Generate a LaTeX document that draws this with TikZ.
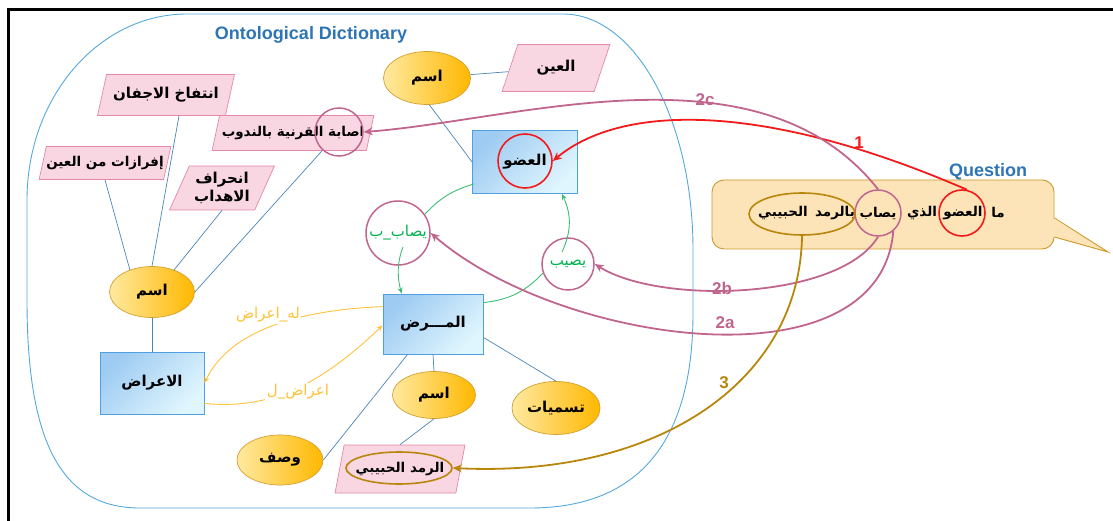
\documentclass[tikz,border=0pt]{standalone}
\usepackage{fontspec}
\setmainfont{Liberation Sans}
\newfontfamily\arabicfont[Script=Arabic]{DejaVu Sans}
\TeXXeTstate=1
\usetikzlibrary{shapes.geometric,arrows.meta,calc}
\newcommand{\rtltxt}[1]{\beginR #1\endR}

\definecolor{framebl}{HTML}{55A8DE}
\definecolor{titlebl}{HTML}{2E75B6}
\definecolor{linkbl}{HTML}{4A86B8}
\definecolor{pinkfill}{HTML}{F8D6E2}
\definecolor{pinkdraw}{HTML}{E589A6}
\definecolor{elllight}{HTML}{FFE9A0}
\definecolor{elldark}{HTML}{FFB800}
\definecolor{elldraw}{HTML}{D4A030}
\definecolor{boxlight}{HTML}{E0F6FE}
\definecolor{boxdark}{HTML}{9ECBF2}
\definecolor{boxdraw}{HTML}{4F9FE3}
\definecolor{mauve}{HTML}{C0668E}
\definecolor{qred}{HTML}{F21A1A}
\definecolor{gold}{HTML}{B8860B}
\definecolor{relgreen}{HTML}{00B050}
\definecolor{relline}{HTML}{3DBE74}
\definecolor{relorange}{HTML}{FFC23A}
\definecolor{qfill}{HTML}{FCE4B8}
\definecolor{qdraw}{HTML}{CC9A2A}

\begin{document}
\begin{tikzpicture}[x=1pt,y=1pt,
  every node/.style={inner sep=0pt},
  arb/.style={font=\arabicfont\bfseries\fontsize{15}{18}\selectfont},
  arbsmall/.style={font=\arabicfont\bfseries\fontsize{13.5}{16}\selectfont},
  arr/.style={font=\arabicfont\fontsize{15}{18}\selectfont},
  namebox/.style={arb, ellipse, draw=elldraw, line width=0.7pt, left color=elllight, right color=elldark},
  termbox/.style={arb, trapezium, trapezium left angle=62, trapezium right angle=118,
    trapezium stretches=true, draw=pinkdraw, line width=0.7pt, fill=pinkfill, align=center},
  classbox/.style={arb, rectangle, draw=boxdraw, line width=0.8pt, top color=boxdark,
    bottom color=boxlight, shading angle=45},
  link/.style={draw=linkbl, line width=0.7pt},
  hilite/.style={circle, draw=mauve, line width=1.5pt},
  relg/.style={draw=relline, line width=0.9pt},
  relo/.style={draw=relorange, line width=0.9pt},
  smalltip/.style={-{Stealth[length=6pt,width=5pt]}},
  maparrow/.style={line width=1.8pt, -{Stealth[length=9pt,width=8pt]}},
  numlbl/.style={font=\bfseries\fontsize{17}{19}\selectfont},
  qword/.style={font=\arabicfont\bfseries\fontsize{13.5}{16}\selectfont}
]
\useasboundingbox (0,0) rectangle (1113,-521);

% outer frame
\draw[line width=3pt] (8,-521) -- (8,-10) -- (1113,-10);

% ontology boundary
\draw[framebl, line width=0.9pt]
  (187,-14) -- (563,-14)
  arc[start angle=90, end angle=0, x radius=130, y radius=236]
  -- (693,-313) .. controls (693,-440) and (640,-508) .. (530,-508)
  -- (140,-508) .. controls (60,-508) and (27,-440) .. (27,-300)
  -- (27,-200) arc[start angle=180, end angle=90, x radius=160, y radius=186] -- cycle;

\node[font=\bfseries\fontsize{18}{20}\selectfont, text=titlebl] (title) at (311,-35) {Ontological Dictionary};

% name ellipses
\node[namebox, minimum width=87pt, minimum height=53pt] (tn) at (427,-78) {\rtltxt{اسم}};
\node[namebox, minimum width=85pt, minimum height=51pt] (ln) at (152,-292) {\rtltxt{اسم}};
\node[namebox, minimum width=83pt, minimum height=47pt] (bn) at (434,-395) {\rtltxt{اسم}};
\node[namebox, minimum width=88pt, minimum height=53pt] (tsm) at (556,-408) {\rtltxt{تسميات}};
\node[namebox, minimum width=86pt, minimum height=50pt] (wsf) at (280,-460) {\rtltxt{وصف}};

% term parallelograms
\node[termbox, minimum width=108pt, minimum height=47pt] (ain) at (556,-68) {\rtltxt{العين}};
\node[termbox, arbsmall, minimum width=162pt, minimum height=35pt] (isb) at (293,-133) {\rtltxt{اصابة القرنية بالندوب}};
\node[termbox, minimum width=137pt, minimum height=41pt] (ntf) at (166,-95) {\rtltxt{انتفاخ الاجفان}};
\node[termbox, arbsmall, minimum width=124pt, minimum height=33pt] (frz) at (105,-163) {\rtltxt{إفرازات من العين}};
\node[termbox, minimum width=105pt, minimum height=44pt] (nhr) at (222,-188) {\rtltxt{انحراف}\\[0pt]\rtltxt{الاهداب}};
\node[termbox, arbsmall, minimum width=130pt, minimum height=48pt] (rmd) at (400,-469) {\rtltxt{الرمد\ الحبيبي}};

% class boxes
\node[classbox, minimum width=105pt, minimum height=63pt] (odw) at (525,-162) {\rtltxt{العضو}};
\node[classbox, minimum width=104pt, minimum height=62pt] (axd) at (152,-383) {\rtltxt{الاعراض}};
\node[classbox, minimum width=100pt, minimum height=60pt] (mrd) at (433,-324) {\rtltxt{المـــرض}};

% highlighted matches inside the dictionary
\node[hilite, minimum size=48pt] (isbc) at (339,-132) {};
\node[circle, draw=qred, line width=1.6pt, minimum size=54pt] (odwc) at (525,-161) {};
\node[ellipse, draw=gold, line width=1.6pt, minimum width=106pt, minimum height=32pt] (rmdc) at (399,-468) {};
\node[hilite, arr, text=relgreen, minimum size=64pt] (ysb) at (398,-233) {\rtltxt{يصاب\_ب}};
\node[hilite, arr, text=relgreen, minimum size=52pt] (ysib) at (568,-264) {\rtltxt{يصيب}};

% plain links
\draw[link] (tn) -- (ain);
\draw[link] (tn.-85) -- (odw.west);
\draw[link] (frz.south) -- (ln.135);
\draw[link] ($(ntf.south)+(13,0)$) -- (ln.north);
\draw[link] (nhr.south) -- (ln.45);
\draw[link] ($(isb.south)+(29,0)$) -- (ln.east);
\draw[link] (ln.south) -- (axd.north);
\draw[link] (mrd.south) -- (bn.north);
\draw[link] ($(mrd.south east)+(0,17)$) -- (tsm.north);
\draw[link] (wsf.east) -- ($(mrd.south west)+(25,0)$);
\draw[link] (bn.south) -- (rmd.north);

% green relations
\draw[relg] ($(odw.south west)+(2,10)$) to[bend right=15] (ysb.35);
\draw[relg, smalltip] ($(ysb.center)+(5,-14)$) .. controls (396,-265) and (398,-280) .. ($(mrd.north west)+(19,0)$);
\draw[relg] ($(mrd.north east)+(0,-9)$) to[bend right=20] (ysib.200);
\draw[relg, smalltip] ($(ysib.center)+(-6,12)$) to[bend right=25] ($(odw.south east)+(-16,0)$);

% orange relations
\draw[relo, smalltip] ($(mrd.north west)+(0,-13)$) .. controls (300,-310) and (230,-330) .. (axd.east);
\draw[relo, smalltip] ($(axd.south east)+(0,11)$) .. controls (270,-410) and (320,-385) .. ($(mrd.south west)+(0,29)$);
\node[arr, text=relorange, fill=white, inner sep=1.5pt] (lhx) at (268,-315) {\rtltxt{له\_اعراض}};
\node[arr, text=relorange, fill=white, inner sep=1.5pt] (axl) at (298,-392) {\rtltxt{اعراض\_ل}};

% question bubble
\node[draw=qdraw, fill=qfill, rounded corners=12pt, line width=0.9pt,
      minimum width=342pt, minimum height=69pt] (qbox) at (883,-214.5) {};
\coordinate (qtip) at (1108,-252);
\fill[qfill] ($(qbox.east)+(-2,-3.5)$) -- (qtip) -- ($(qbox.east)+(-2,-22.5)$) -- cycle;
\draw[qdraw, line width=0.9pt] ($(qbox.east)+(0,-3.5)$) -- (qtip) -- ($(qbox.east)+(0,-22.5)$);
\node[font=\bfseries\fontsize{18}{20}\selectfont, text=titlebl] (qtitle) at (988,-172) {Question};

\node[qword] (qw1) at (998,-213) {\rtltxt{ما}};
\node[qword] (qw2) at (963,-213) {\rtltxt{العضو}};
\node[qword] (qw3) at (922,-213) {\rtltxt{الذي}};
\node[qword] (qw4) at (878,-213) {\rtltxt{يصاب}};
\node[qword] (qw5) at (835,-213) {\rtltxt{بالرمد}};
\node[qword] (qw6) at (783,-213) {\rtltxt{الحبيبي}};

\node[circle, draw=qred, line width=1.6pt, minimum size=46pt] (qc1) at (962,-213) {};
\node[hilite, minimum size=46pt] (qc2) at (878,-213) {};
\node[ellipse, draw=gold, line width=1.6pt, minimum width=106pt, minimum height=42pt] (qc3) at (802,-214) {};

% mappings from the question to the dictionary
\draw[maparrow, qred] (qc1.78) .. controls (760,-100) and (620,-105) .. (odwc.east);
\draw[maparrow, mauve] (qc2.north) .. controls (760,-40) and (520,-120) .. (isbc.east);
\draw[maparrow, mauve] (qc2.south) .. controls (840,-300) and (660,-305) .. (ysib.east);
\draw[maparrow, mauve] (qc2.-50) .. controls (880,-390) and (560,-345) .. (ysb.east);
\draw[maparrow, gold] (qc3.south) .. controls (800,-380) and (660,-478) .. (rmdc.east);

\node[numlbl, text=qred] (n1) at (859,-143) {1};
\node[numlbl, text=mauve] (n2c) at (705,-100) {2c};
\node[numlbl, text=mauve] (n2b) at (722,-288) {2b};
\node[numlbl, text=mauve] (n2a) at (725,-323) {2a};
\node[numlbl, text=gold] (n3) at (724,-383) {3};
\end{tikzpicture}
\end{document}
